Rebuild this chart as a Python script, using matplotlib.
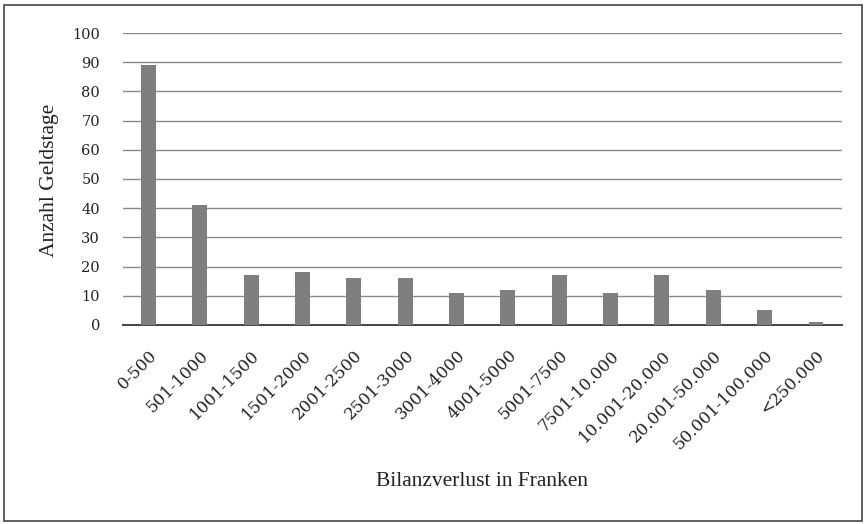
import matplotlib
matplotlib.use('Agg')
import matplotlib.pyplot as plt
from matplotlib.patches import Rectangle

categories = ['0-500', '501-1000', '1001-1500', '1501-2000', '2001-2500', '2501-3000',
              '3001-4000', '4001-5000', '5001-7500', '7501-10.000', '10.001-20.000',
              '20.001-50.000', '50.001-100.000', '<250.000']
counts = [89, 41, 17, 18, 16, 16, 11, 12, 17, 11, 17, 12, 5, 1]

plt.rcParams['font.family'] = ['Liberation Serif', 'DejaVu Serif']

fig = plt.figure(figsize=(8.65, 5.24), dpi=100)
ax = fig.add_axes([0.142, 0.380, 0.831, 0.557])

fig.patches.append(Rectangle((0.005, 0.006), 0.991, 0.985, transform=fig.transFigure,
                             fill=False, edgecolor='#444444', linewidth=1.2))

x = list(range(len(categories)))
ax.bar(x, counts, width=0.29, color='#7f7f7f', zorder=3)

ax.set_xlim(-0.5, len(categories) - 0.5)
ax.set_ylim(0, 100)
ax.set_yticks(range(0, 101, 10))
ax.yaxis.grid(True, color='#8a8a8a', linewidth=1.0, zorder=0)
ax.set_axisbelow(True)

for s in ['top', 'right', 'left']:
    ax.spines[s].set_visible(False)
ax.spines['bottom'].set_color('#444444')
ax.spines['bottom'].set_linewidth(1.4)

tick_font = ['DejaVu Serif']
ax.tick_params(axis='y', length=0, pad=16.5, colors='#222222')
ax.tick_params(axis='x', length=0, pad=16, colors='#222222')
for lab in ax.get_yticklabels():
    lab.set_fontfamily(tick_font)
    lab.set_fontsize(10.5)
ax.set_xticks(x)
ax.set_xticklabels(categories, rotation=45, ha='right', rotation_mode='anchor',
                   fontfamily=tick_font, fontsize=12)

fig.text(50 / 865, 1 - 180 / 524, 'Anzahl Geldstage', rotation=90, ha='center', va='center',
         fontsize=15.5, color='#222222')
fig.text(482 / 865, 1 - 482 / 524, 'Bilanzverlust in Franken', ha='center', va='center',
         fontsize=15.5, color='#222222')

fig.savefig('out.png', dpi=100)
